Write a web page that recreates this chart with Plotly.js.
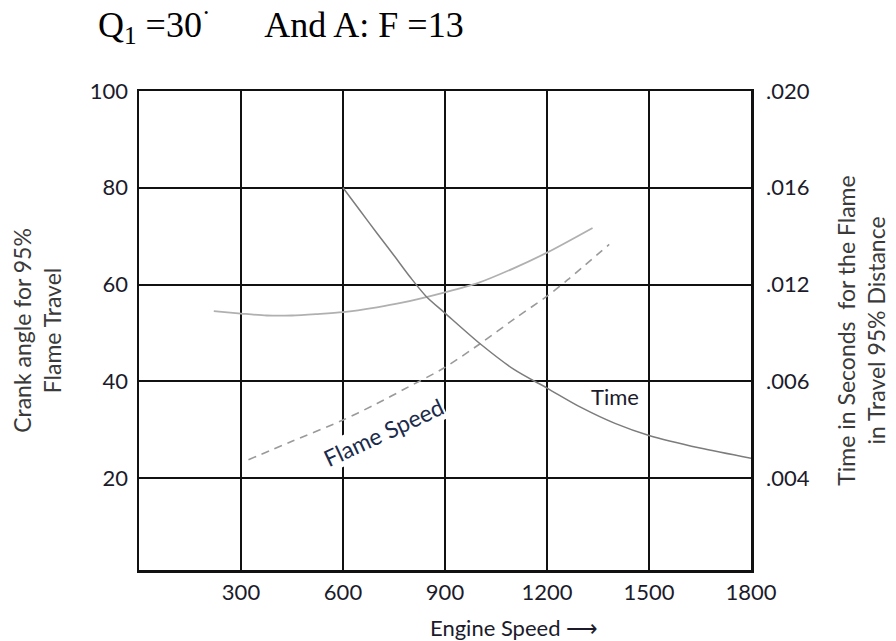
<!DOCTYPE html>
<html>
<head>
<meta charset="utf-8">
<script src="https://cdn.plot.ly/plotly-3.0.1.min.js"></script>
<style>html,body{margin:0;padding:0;background:#fff;}#chart{width:896px;height:641px;}</style>
</head>
<body>
<div id="chart"></div>
<script>
// Engine speed (rpm) tick values
const xTicks = [300, 600, 900, 1200, 1500, 1800];
// Left axis: crank angle for 95% flame travel
const yTicks = [20, 40, 60, 80, 100];
// Right axis: time in seconds (labels as printed in the source, incl. ".006")
const y2Ticks = [0.004, 0.008, 0.012, 0.016, 0.020];
const y2TickText = ['.004', '.006', '.012', '.016', '.020'];

// Crank angle curve (solid)
const crankSpeed = [220, 300, 376, 450, 525, 600, 700, 770, 900, 996, 1100, 1200, 1334];
const crankAngle = [54.5, 54.0, 53.6, 53.6, 53.9, 54.3, 55.3, 56.2, 58.4, 60.3, 63.3, 66.6, 71.7];

// Flame speed curve (dashed), read on the left scale
const flameSpeedX = [322, 450, 600, 700, 778, 898, 1006, 1104, 1200, 1261, 1383];
const flameSpeedY = [23.8, 27.6, 32.0, 35.4, 38.3, 42.8, 47.9, 52.9, 57.6, 61.0, 68.3];

// Time curve (seconds, right scale)
const timeX = [600, 650, 700, 750, 798, 844, 900, 1006, 1104, 1200, 1300, 1400, 1500, 1650, 1800];
const timeS = [0.0160, 0.01506, 0.01412, 0.0132, 0.0123, 0.01152, 0.01082, 0.00952, 0.00848, 0.00772, 0.00692, 0.00626, 0.00576, 0.00524, 0.00482];

const sans = 'Lato, "Open Sans", sans-serif';
const tickFont = {family: sans, size: 22, color: '#1b1b2b'};
const titleFont = {family: sans, size: 23, color: '#3a3a3a'};

const traces = [
  {x: crankSpeed, y: crankAngle, type: 'scatter', mode: 'lines', name: 'Crank angle',
   line: {color: '#b0b0b0', width: 1.8, shape: 'spline', smoothing: 0.8}},
  {x: flameSpeedX, y: flameSpeedY, type: 'scatter', mode: 'lines', name: 'Flame Speed',
   line: {color: '#9a9a9a', width: 1.6, dash: '8px,6px', shape: 'spline', smoothing: 0.8}},
  {x: timeX, y: timeS, yaxis: 'y2', type: 'scatter', mode: 'lines', name: 'Time',
   line: {color: '#7c7c7c', width: 1.5, shape: 'spline', smoothing: 0.8}}
];

const layout = {
  width: 896, height: 641,
  paper_bgcolor: '#fff', plot_bgcolor: '#fff',
  showlegend: false,
  margin: {l: 139, r: 145, t: 91, b: 71},
  title: {
    text: 'Q<sub>1</sub> =30<sup>·</sup>\u00a0\u00a0\u00a0\u00a0\u00a0\u00a0And A: F =13',
    font: {family: '"Liberation Serif", "Times New Roman", serif', size: 36, color: '#000'},
    x: 98 / 896, xanchor: 'left', xref: 'container',
    y: 1 - 24 / 641, yanchor: 'middle', yref: 'container'
  },
  xaxis: {
    range: [0, 1800], tickvals: xTicks, ticktext: xTicks.map(String),
    showgrid: true, gridcolor: '#111', gridwidth: 2,
    showline: true, linecolor: '#111', linewidth: 2.5, mirror: true,
    zeroline: false, ticks: '', ticklabelstandoff: 1,
    tickfont: tickFont, fixedrange: true
  },
  yaxis: {
    range: [1, 100], tickvals: yTicks, ticktext: yTicks.map(String),
    showgrid: true, gridcolor: '#111', gridwidth: 2,
    showline: true, linecolor: '#111', linewidth: 2.5, mirror: true,
    zeroline: false, ticks: '', ticklabelstandoff: 4,
    tickfont: tickFont,
    title: {text: 'Crank angle for 95%<br>Flame Travel', font: titleFont, standoff: 22},
    fixedrange: true
  },
  yaxis2: {
    overlaying: 'y', side: 'right',
    range: [0.0002, 0.020], tickvals: y2Ticks, ticktext: y2TickText,
    showgrid: false, showline: false, zeroline: false, ticks: '', ticklabelstandoff: 14,
    tickfont: tickFont,
    title: {text: 'Time in Seconds\u00a0 for the Flame<br>in Travel 95% Distance', font: titleFont, standoff: 30},
    fixedrange: true
  },
  annotations: [
    {text: 'Engine Speed \u27F6', xref: 'paper', yref: 'paper', x: (428 - 139) / 612, y: 0,
     xanchor: 'left', yanchor: 'middle', yshift: -57, showarrow: false,
     font: {family: sans, size: 22, color: '#1b1b2b'}},
    {text: 'Flame Speed', xref: 'x', yref: 'y', x: 720, y: 29.5, textangle: -25,
     showarrow: false, bgcolor: '#fff', borderpad: 0,
     font: {family: sans, size: 23, color: '#1b2b4b'}},
    {text: 'Time', xref: 'x', yref: 'y', x: 1400, y: 36.8,
     showarrow: false,
     font: {family: sans, size: 22, color: '#1b1b2b'}}
  ]
};

Plotly.newPlot('chart', traces, layout, {staticPlot: true, displayModeBar: false});
</script>
</body>
</html>
